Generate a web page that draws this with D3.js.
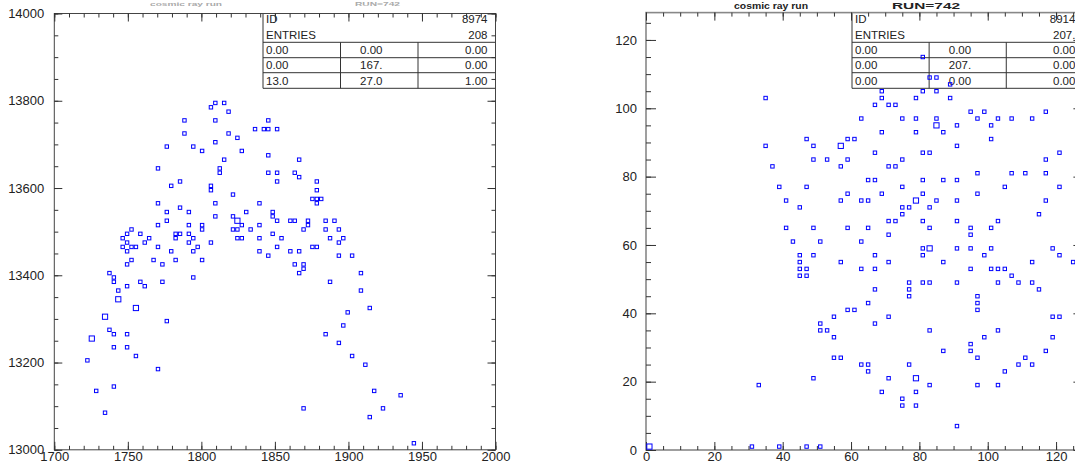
<!DOCTYPE html>
<html><head><meta charset="utf-8">
<script src="https://cdn.jsdelivr.net/npm/d3@7"></script>
<style>
html,body{margin:0;padding:0;background:#fff;}
svg{display:block;}
</style></head><body>
<svg id="c" width="1075" height="470"></svg>
<script>
// ---------------- DATA ----------------
const leftXTicks = [1700,1750,1800,1850,1900,1950,2000];
const leftYTicks = [13000,13200,13400,13600,13800,14000];
const rightXTicks = [0,20,40,60,80,100,120];
const rightYTicks = [0,20,40,60,80,100,120];
const titleText = ["cosmic ray run","RUN=742"];
const leftStatsHead = [["ID","8974"],["ENTRIES","208"]];
const leftStatsRows = [["0.00","0.00","0.00"],["0.00","167.","0.00"],["13.0","27.0","1.00"]];
const rightStatsHead = [["ID","8914"],["ENTRIES","207."]];
const rightStatsRows = [["0.00","0.00","0.00"],["0.00","207.","0.00"],["0.00","0.00","0.00"]];
// [x, y, count]
const leftPoints = [
[1809.5,13795],[1815.5,13795],[1806.5,13785],[1818.5,13775],[1788.5,13755],[1809.5,13755],[1836.5,13735],[1788.5,13725],[1818.5,13725],[1824.5,13715],[1809.5,13705],[1776.5,13695],[1794.5,13695],[1800.5,13685],[1827.5,13685],[1815.5,13665],[1770.5,13645],[1812.5,13645],[1812.5,13635],[1785.5,13615],[1779.5,13605],[1806.5,13605],[1806.5,13595],[1821.5,13585],[1770.5,13565],[1809.5,13565],[1839.5,13565],[1785.5,13555],[1776.5,13545],[1791.5,13545],[1830.5,13545],[1809.5,13535],[1821.5,13535],[1776.5,13525],[1824.5,13525,2],[1770.5,13515],[1791.5,13515],[1800.5,13515],[1827.5,13515],[1839.5,13515],[1752.5,13505],[1800.5,13505],[1821.5,13505],[1824.5,13505],[1833.5,13505],[1749.5,13495],[1758.5,13495],[1782.5,13495],[1785.5,13495],[1791.5,13495],[1746.5,13485],[1764.5,13485],[1782.5,13485],[1794.5,13485],[1824.5,13485],[1827.5,13485],[1839.5,13485],[1749.5,13475],[1761.5,13475],[1791.5,13475],[1806.5,13475],[1746.5,13465],[1752.5,13465],[1755.5,13465],[1770.5,13465],[1797.5,13465],[1749.5,13455],[1779.5,13455],[1794.5,13455],[1839.5,13455],[1752.5,13435],[1767.5,13435],[1782.5,13435],[1800.5,13435],[1749.5,13425],[1773.5,13425],[1737.5,13405],[1740.5,13395],[1794.5,13395],[1740.5,13385],[1758.5,13385],[1773.5,13385],[1749.5,13375],[1761.5,13375],[1743.5,13365],[1743.5,13345,2],[1755.5,13325,2],[1734.5,13305,2],[1776.5,13295],[1737.5,13275],[1740.5,13265],[1749.5,13265],[1725.5,13255,2],[1740.5,13235],[1749.5,13235],[1755.5,13215],[1722.5,13205],[1770.5,13185],[1740.5,13145],[1728.5,13135],[1734.5,13085],
[1845.5,13755],[1842.5,13735],[1845.5,13735],[1851.5,13735],[1845.5,13675],[1866.5,13665],[1845.5,13635],[1851.5,13635],[1863.5,13635],[1866.5,13625],[1851.5,13615],[1878.5,13615],[1878.5,13595],[1875.5,13575],[1878.5,13575],[1881.5,13575],[1878.5,13565],[1848.5,13545],[1848.5,13535],[1851.5,13525],[1860.5,13525],[1863.5,13525],[1872.5,13525],[1884.5,13525],[1890.5,13525],[1869.5,13505],[1872.5,13515],[1884.5,13505],[1893.5,13505],[1848.5,13495],[1854.5,13485],[1887.5,13485],[1896.5,13485],[1893.5,13475],[1851.5,13465],[1875.5,13465],[1878.5,13465],[1860.5,13455],[1866.5,13455],[1845.5,13445],[1893.5,13445],[1902.5,13445],[1863.5,13425],[1869.5,13425],[1869.5,13415],[1866.5,13405],[1908.5,13405],[1887.5,13385],[1908.5,13365],[1914.5,13325],[1899.5,13315],[1896.5,13285],[1884.5,13265],[1893.5,13245],[1902.5,13215],[1911.5,13195],[1917.5,13135],[1935.5,13125],[1869.5,13095],[1923.5,13095],[1914.5,13075],[1944.5,13015]
];
const rightPoints = [
[1,1,2],[31,1],[39,1],[47,1],[51,1],
[35,103],[63,97],[47,91],[59,91],[61,91],[35,89],[49,89],[57,89,2],[49,85],[53,85],[59,85],[37,83],[57,83],[39,77],[47,77],[59,75],[41,73],[57,73],[63,73],[45,71],[41,65],[49,65],[59,65],[43,61],[51,61],[63,61],[45,57],[49,57],
[45,55],[57,55],[63,53],[45,53],[47,53],[45,51],[47,51],[59,41],[61,41],[55,39],[51,37],[51,35],[53,35],[55,33],[55,27],[57,27],[63,25],[49,21],[33,19],
[81,115],
[83,109],[85,109],[89,107],[69,105],[81,105],[85,105],[69,103],[79,103],[89,103],[67,101],[71,101],[73,101],[95,99],[99,99],[117,99],[75,97],[79,97],[85,97],[97,97],[103,97],[107,97],[113,97],[85,95,2],[91,95],[101,95],[69,93],[79,93],[87,93],[101,91],[91,89],[67,87],[81,87],[83,87],[121,87],[75,85],[117,85],[71,83],[73,83],[97,81],[107,81],[111,81],[117,81],[65,79],[67,79],[81,79],[87,79],[91,79],[75,77],[105,77],[121,77],[69,75],[81,75],[97,75],[65,73],[79,73,2],[85,73],[91,73],[117,73],[75,71],[77,71],[83,71],[75,69],[115,69],[71,67],[73,67],[81,67],[91,67],[103,67],[65,65],[83,65],[95,65],[101,65],[71,63],[95,63],[81,59],[83,59,2],[91,59],[95,59],[101,59],[119,59],[67,57],[81,57],[99,57],[121,57],
[71,55],[87,55],[113,55],[125,55],[67,53],[95,53],[101,53],[103,53],[105,53],[107,51],[77,49],[81,49],[83,49],[91,49],[103,49],[109,49],[113,49],[67,47],[77,47],[115,47],[77,45],[97,45],[65,43],[97,43],[97,41],[71,39],[119,39],[121,39],[67,37],[83,35],[103,35],[99,33],[119,33],[95,31],[87,29],[95,29],[117,29],[97,27],[111,27],[65,25],[77,25],[109,25],[113,25],[65,23],[105,23],[71,21],[79,21,2],[83,19],[97,19],[103,19],[69,17],[79,17],[75,15],[75,13],[79,13],[91,7]
];

// ---------------- DRAW ----------------
const FONT = "'Liberation Sans', Arial, Helvetica, sans-serif";
const svg = d3.select("#c");
const boxSize = d3.scaleSqrt().domain([1,2]).range([3.4,5.2]);

function panel(cfg){
  const {x, y, xMinor, xMajor, yMinor, yMajor, xLen, yLen, yPad, frameColor, frameWidth, points} = cfg;
  const [X0, X1] = x.range();
  const [Y1, Y0] = y.range();
  const g = svg.append("g");
  g.append("rect").attr("x",X0).attr("y",Y0).attr("width",X1-X0).attr("height",Y1-Y0)
    .attr("fill","none").attr("stroke",frameColor).attr("stroke-width",frameWidth);

  function ax(axis, tr){
    const a = g.append("g").attr("transform",tr).call(axis);
    a.select(".domain").remove();
    a.selectAll("line").attr("stroke","#333");
    a.attr("font-family",FONT).attr("font-size",13);
    a.selectAll("text").attr("fill","#222");
    return a;
  }
  ax(d3.axisBottom(x).tickValues(xMinor).tickSize(-xLen[0]).tickFormat(""), `translate(0,${Y1})`);
  ax(d3.axisBottom(x).tickValues(xMajor).tickSize(-xLen[1]).tickPadding(2).tickFormat(d3.format("d")), `translate(0,${Y1})`);
  ax(d3.axisTop(x).tickValues(xMinor).tickSize(-xLen[0]).tickFormat(""), `translate(0,${Y0})`);
  ax(d3.axisTop(x).tickValues(xMajor).tickSize(-xLen[1]).tickFormat(""), `translate(0,${Y0})`);
  ax(d3.axisLeft(y).tickValues(yMinor).tickSize(-yLen[0]).tickFormat(""), `translate(${X0},0)`);
  ax(d3.axisLeft(y).tickValues(yMajor).tickSize(-yLen[1]).tickPadding(yPad).tickFormat(d3.format("d")), `translate(${X0},0)`);
  ax(d3.axisRight(y).tickValues(yMinor).tickSize(-yLen[0]).tickFormat(""), `translate(${X1},0)`);
  ax(d3.axisRight(y).tickValues(yMajor).tickSize(-yLen[1]).tickFormat(""), `translate(${X1},0)`);

  g.append("g").selectAll("rect").data(points).join("rect")
    .attr("x", d => x(d[0]) - boxSize(d[2]||1)/2)
    .attr("y", d => y(d[1]) - boxSize(d[2]||1)/2)
    .attr("width", d => boxSize(d[2]||1))
    .attr("height", d => boxSize(d[2]||1))
    .attr("fill","none").attr("stroke","#0000ff").attr("stroke-width",1);
  return g;
}

function statsTable(left, right, top, head, rows){
  const g = svg.append("g").attr("font-family",FONT).attr("font-size",11.5).attr("fill","#222");
  const hl = [42.3, 57.7, 72.7, 88.3];
  const cw = (right-left)/3;
  const line = (x1,y1,x2,y2)=> g.append("line").attr("x1",x1).attr("y1",y1).attr("x2",x2).attr("y2",y2).attr("stroke","#333").attr("stroke-width",1);
  line(left, top, left, hl[3]);
  hl.forEach(h => line(left, h, right, h));
  line(left+cw, hl[0], left+cw, hl[3]);
  line(left+2*cw, hl[0], left+2*cw, hl[3]);
  const hb = [23, 39];
  head.forEach((r,i)=>{
    g.append("text").attr("x",left+3).attr("y",hb[i]).text(r[0]);
    g.append("text").attr("x",right-8).attr("y",hb[i]).attr("text-anchor","end").text(r[1]);
  });
  rows.forEach((r,i)=>{
    const b = hl[i+1]-3.3;
    g.append("text").attr("x",left+3).attr("y",b).text(r[0]);
    g.append("text").attr("x",left+cw+42).attr("y",b).attr("text-anchor","end").text(r[1]);
    g.append("text").attr("x",right-8).attr("y",b).attr("text-anchor","end").text(r[2]);
  });
}

function titles(pos, base, size, color, widths){
  pos.forEach((px,i)=>{
    svg.append("text").attr("x",px).attr("y",base)
      .attr("font-family",FONT).attr("font-weight","bold").attr("font-size",size)
      .attr("fill",color).attr("textLength",widths[i]).attr("lengthAdjust","spacingAndGlyphs")
      .text(titleText[i]);
  });
}

// left panel
const xL = d3.scaleLinear().domain([1700,2000]).range([54.3,495.5]);
const yL = d3.scaleLinear().domain([13000,14000]).range([449.8,13.5]);
statsTable(263, 495.5, 13.5, leftStatsHead, leftStatsRows);
panel({x:xL, y:yL,
  xMinor:d3.range(1700,2001,10), xMajor:leftXTicks,
  yMinor:d3.range(13000,14001,50), yMajor:leftYTicks,
  xLen:[4,8], yLen:[4,8], yPad:10, frameColor:"#444", frameWidth:1, points:leftPoints});
titles([150,355], 5.5, 6, "#aaa", [72,45]);

// right panel
const xR = d3.scaleLinear().domain([0,128]).range([646,1083.4]);
const yR = d3.scaleLinear().domain([0,128]).range([450,12.6]);
statsTable(852, 1083.4, 12.6, rightStatsHead, rightStatsRows);
panel({x:xR, y:yR,
  xMinor:d3.range(0,129,5), xMajor:rightXTicks,
  yMinor:d3.range(0,129,5), yMajor:rightYTicks,
  xLen:[4,8], yLen:[5,10], yPad:9, frameColor:"#888", frameWidth:1.6, points:rightPoints});
titles([734,892], 8.5, 8.5, "#222", [74,68]);
</script>
</body></html>
